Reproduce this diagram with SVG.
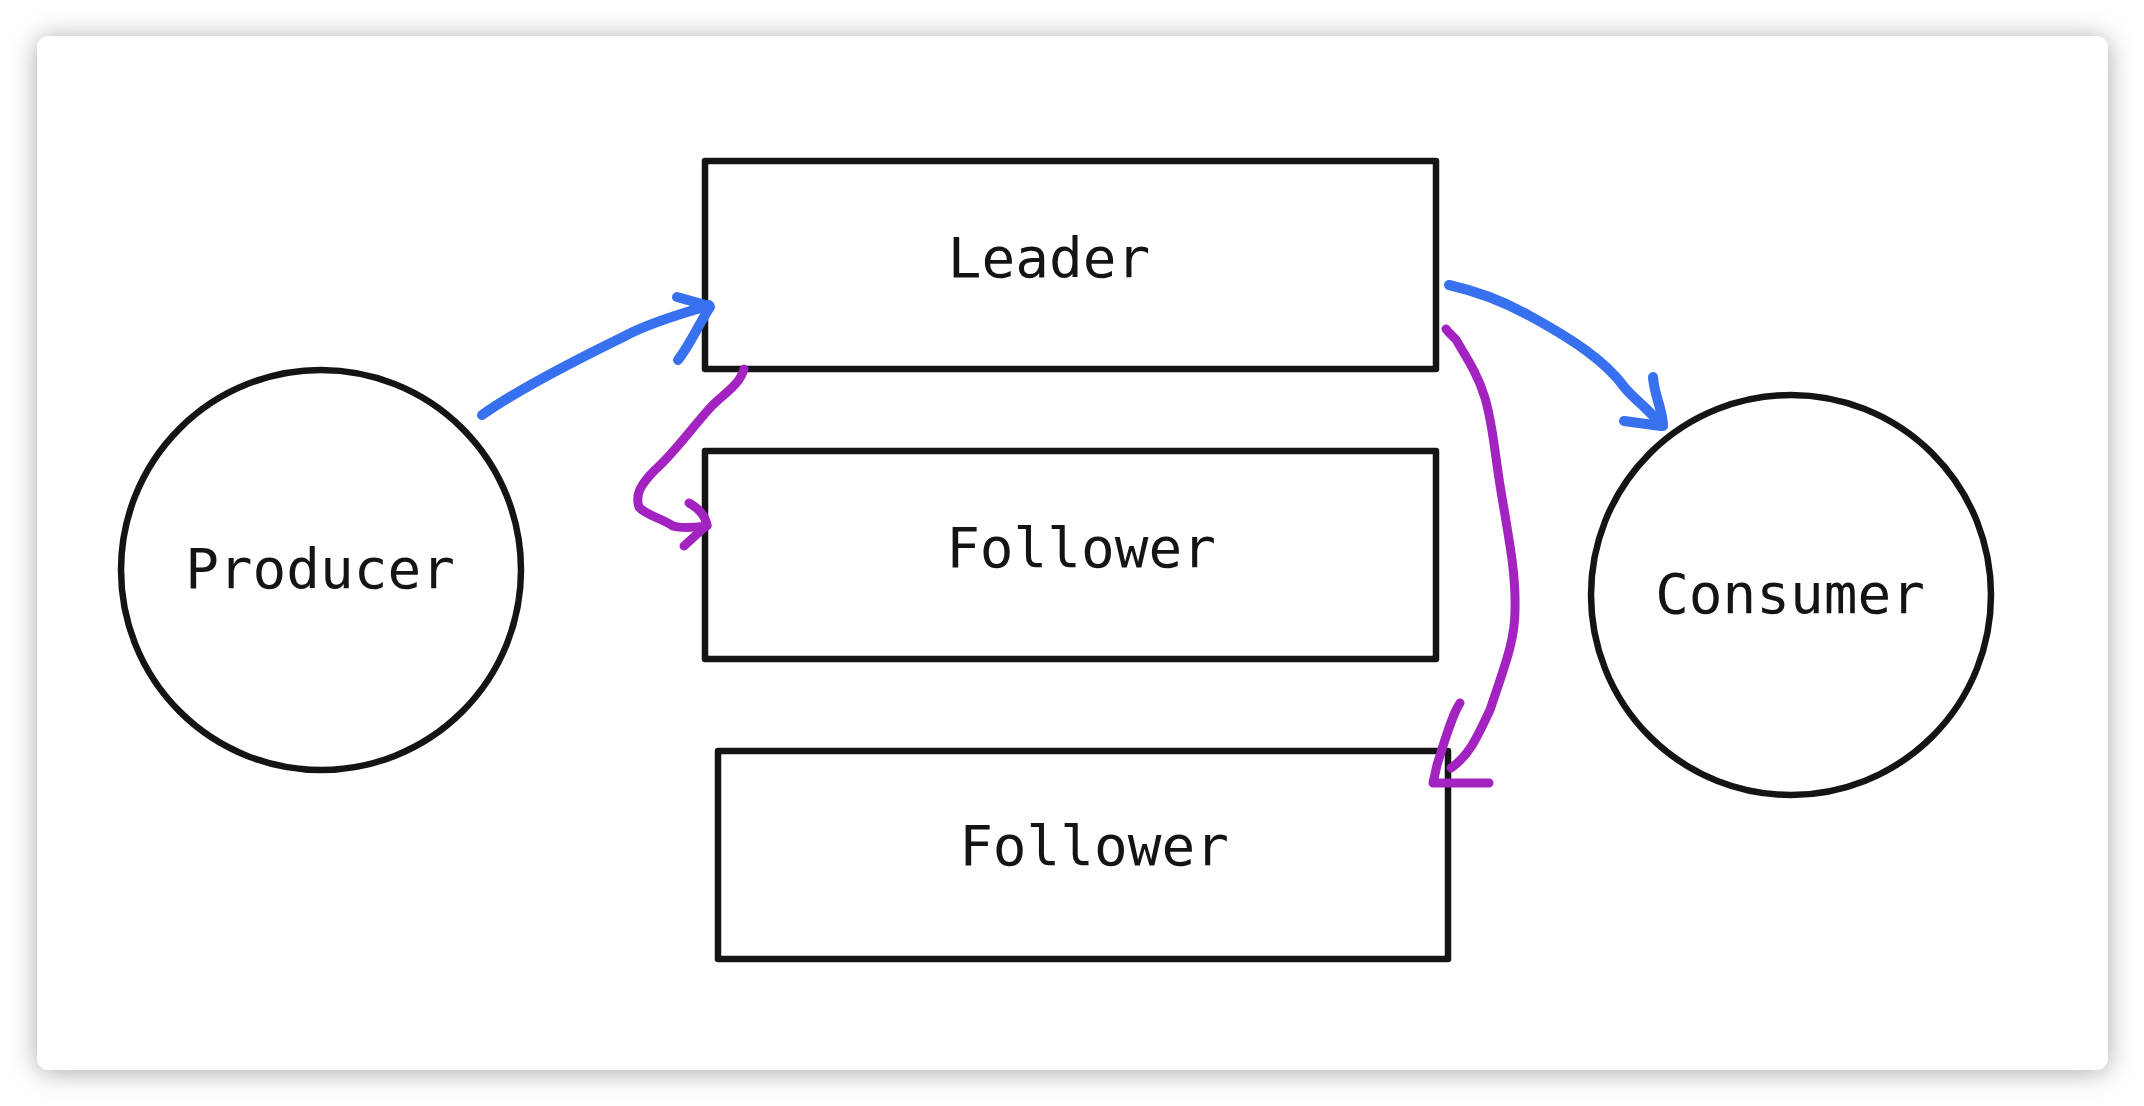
<svg xmlns="http://www.w3.org/2000/svg" width="2144" height="1106" viewBox="0 0 2144 1106">
<defs>
<filter id="sh" x="-5%" y="-8%" width="110%" height="116%">
<feDropShadow dx="0" dy="2" stdDeviation="13" flood-color="#000" flood-opacity="0.34"/>
</filter>
<style>
.box{fill:#fff;stroke:#141414;stroke-width:6.5;stroke-linejoin:round}
.lbl{font-family:"DejaVu Sans Mono","Liberation Mono",monospace;font-size:56px;fill:#141414;text-anchor:middle}
.blue{fill:none;stroke:#3771ef;stroke-width:10;stroke-linecap:round;stroke-linejoin:round}
.purple{fill:none;stroke:#a323c1;stroke-width:9;stroke-linecap:round;stroke-linejoin:round}
</style>
</defs>
<rect x="0" y="0" width="2144" height="1106" fill="#fff"/>
<rect x="37" y="36" width="2071" height="1034" rx="12" fill="#fff" filter="url(#sh)"/>
<g id="producer">
<circle class="box" cx="321" cy="570" r="200"/>
<text class="lbl" x="320" y="588">Producer</text>
</g>
<g id="leader">
<rect class="box" x="705" y="161" width="731" height="208"/>
<text class="lbl" x="1049" y="277">Leader</text>
</g>
<g id="follower1">
<rect class="box" x="705" y="451" width="731" height="208"/>
<text class="lbl" x="1081" y="567">Follower</text>
</g>
<g id="follower2">
<rect class="box" x="718" y="751" width="730" height="208"/>
<text class="lbl" x="1094" y="865">Follower</text>
</g>
<g id="consumer">
<circle class="box" cx="1791" cy="595" r="200"/>
<text class="lbl" x="1790" y="613">Consumer</text>
</g>
<g id="connectors">
<path class="blue" d="M482,415 C520,388 580,358 625,336 C655,320 690,312 709,305"/>
<path class="blue" d="M677,297 L709,306 M678,360 C690,345 700,322 710,307"/>
<path class="blue" d="M1449,285 C1480,292 1505,302 1530,316 C1570,338 1605,360 1625,388 C1635,400 1648,408 1661,425"/>
<path class="blue" d="M1624,421 L1661,426 M1653,377 C1654,395 1663,410 1663,426"/>
<path class="purple" d="M744,369 C740,385 722,395 710,408 C690,430 675,452 655,470 C640,485 635,495 639,507 C645,515 662,518 673,526 C683,529 697,527 707,526"/>
<path class="purple" d="M689,503 C698,508 705,515 707,525 L684,546"/>
<path class="purple" d="M1446,329 C1450,335 1456,338 1458,343 C1468,360 1478,375 1485,398 C1493,425 1495,455 1500,485 C1508,535 1516,570 1515,610 C1515,640 1505,665 1490,710 C1478,735 1470,755 1451,768"/>
<path class="purple" d="M1460,703 C1452,715 1445,740 1437,765 L1433,783 L1489,783"/>
</g>
</svg>
